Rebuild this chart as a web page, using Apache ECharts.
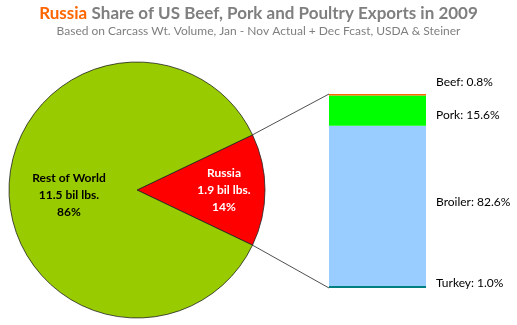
<!DOCTYPE html>
<html><head><meta charset="utf-8">
<script src="https://cdn.jsdelivr.net/npm/echarts@6/dist/echarts.min.js"></script>
<style>html,body{margin:0;padding:0;background:#fff}#c{width:517px;height:325px}</style>
</head><body><div id="c"></div>
<script>
const pieCategories = ['Russia', 'Rest of World'];
const pieValues = [1.9, 11.5];
const piePercents = [14, 86];
const barCategories = ['Turkey', 'Broiler', 'Pork', 'Beef'];
const barValues = [1.0, 82.6, 15.6, 0.8];
const titleMain = 'Share of US Beef, Pork and Poultry Exports in 2009';
const titleHighlight = 'Russia';
const subtitle = 'Based on Carcass Wt. Volume, Jan - Nov Actual + Dec Fcast, USDA & Steiner';

const FONT = 'Lato, "Liberation Sans", sans-serif';
const pieColors = ['#ff0000', '#99cc00'];
const barColors = ['#008080', '#99ccff', '#00ff00', '#ff6600'];
const labelOffsets = [[0, -4], [0, -4], [0, 4], [0, -13]];

const cx = 137, cy = 190, R = 128;
const grid = {left: 329, top: 94, width: 97, height: 194};
const russiaShare = pieValues[0] / (pieValues[0] + pieValues[1]);
const startAngle = russiaShare * 360 / 2;

const chart = echarts.init(document.getElementById('c'), null, {renderer: 'canvas'});

const a = startAngle * Math.PI / 180;
const p1 = [cx + R * Math.cos(a), cy - R * Math.sin(a)];
const p2 = [cx + R * Math.cos(a), cy + R * Math.sin(a)];

chart.setOption({
  animation: false,
  title: {
    text: '{h|' + titleHighlight + '} {m|' + titleMain + '}',
    subtext: subtitle,
    left: 'center', top: 0, itemGap: 2,
    textStyle: {
      fontFamily: FONT,
      rich: {
        h: {color: '#ff6600', fontSize: 17, fontWeight: 'bold', fontFamily: FONT},
        m: {color: '#7f7f7f', fontSize: 17, fontWeight: 'bold', fontFamily: FONT}
      }
    },
    subtextStyle: {color: '#7f7f7f', fontSize: 12, fontFamily: FONT}
  },
  grid: grid,
  xAxis: {type: 'category', data: ['Russia'], show: false},
  yAxis: {type: 'value', min: 0, max: 100, show: false},
  series: [
    {
      type: 'pie',
      center: [cx, cy],
      radius: R,
      startAngle: startAngle,
      clockwise: true,
      silent: true,
      itemStyle: {borderColor: '#222', borderWidth: 0.8},
      label: {
        position: 'inside',
        fontFamily: FONT, fontSize: 12, fontWeight: 'bold', lineHeight: 17,
        formatter: p => p.name + '\n' + pieValues[p.dataIndex] + ' bil lbs.\n' + piePercents[p.dataIndex] + '%'
      },
      labelLayout: p => (p.dataIndex === 0 ? {dx: 20} : {dx: -1, dy: 5}),
      data: pieCategories.map((n, i) => ({
        name: n, value: pieValues[i],
        itemStyle: {color: pieColors[i]},
        label: {color: i === 0 ? '#fff' : '#000'}
      }))
    }
  ].concat(barCategories.map((n, i) => ({
    type: 'bar',
    name: n,
    stack: 'russia',
    barWidth: '100%',
    silent: true,
    itemStyle: {color: barColors[i]},
    label: {
      show: true, position: 'right', distance: 10,
      offset: labelOffsets[i],
      color: '#000', fontFamily: FONT, fontSize: 12,
      formatter: p => n + ': ' + barValues[i].toFixed(1) + '%'
    },
    data: [barValues[i]]
  }))),
  graphic: [
    {type: 'line', shape: {x1: p1[0], y1: p1[1], x2: grid.left, y2: grid.top}, style: {stroke: '#222', lineWidth: 0.8}, silent: true},
    {type: 'line', shape: {x1: p2[0], y1: p2[1], x2: grid.left, y2: grid.top + grid.height}, style: {stroke: '#222', lineWidth: 0.8}, silent: true}
  ]
});
</script></body></html>
